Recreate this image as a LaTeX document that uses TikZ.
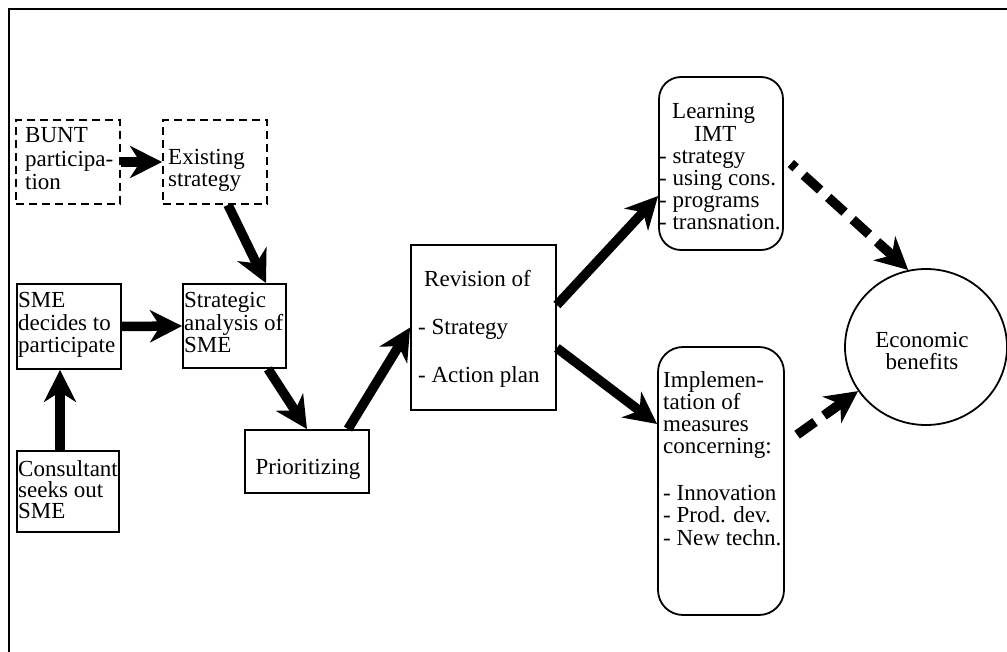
\documentclass[tikz,border=0pt]{standalone}
\usepackage{fontspec}
\setmainfont{Liberation Serif}
\usetikzlibrary{arrows.meta,shapes.geometric,calc}

% left-aligned block of lines: width, baselineskip, lines
\newcommand\tbl[3]{\parbox[t]{#1}{\fontsize{23}{#2}\selectfont #3}}
% centred block of lines
\newcommand\tbc[3]{\parbox[t]{#1}{\centering\fontsize{23}{#2}\selectfont #3}}

\begin{document}
\begin{tikzpicture}[x=1pt,y=-1pt,
  box/.style={draw, line width=1.8pt, inner sep=0pt},
  dbox/.style={box, dash pattern=on 8pt off 5pt},
  rbox/.style={box, rounded corners=22pt},
  arr/.style={line width=9.5pt, -{Stealth[length=32pt,width=32pt,inset=10pt]}},
  dline/.style={line width=9.5pt, dash pattern=on 22pt off 11pt},
  lbl/.style={inner sep=0pt, anchor=base west},
  clbl/.style={inner sep=0pt, anchor=base}]

\useasboundingbox (0,0) rectangle (1007,652);

% frame
\draw[line width=1.5pt] (1007,9) -- (9,9) -- (9,652);

% boxes
\node[dbox, minimum width=104pt, minimum height=84pt] (bunt)  at (68,162) {};
\node[dbox, minimum width=104pt, minimum height=84pt] (exist) at (215,162) {};
\node[box, minimum width=104pt, minimum height=85pt]  (sme)   at (69,326.5) {};
\node[box, minimum width=103pt, minimum height=84pt]  (strat) at (234.5,326) {};
\node[box, minimum width=102pt, minimum height=81pt]  (cons)  at (68,491.5) {};
\node[box, minimum width=124pt, minimum height=63pt]  (prio)  at (307,461.5) {};
\node[box, minimum width=145pt, minimum height=165pt] (rev)   at (483.5,327.5) {};
\node[rbox, minimum width=124pt, minimum height=173pt] (learn) at (721,163.5) {};
\node[rbox, minimum width=126pt, minimum height=268pt, rounded corners=25pt] (impl) at (721,481) {};
\node[box, ellipse, minimum width=162pt, minimum height=156pt] (econ) at (926,347) {};

% texts
\node[lbl] (bunt-t)  at (25,143)  {\tbl{100pt}{23.5}{BUNT\\participa-\\tion}};
\node[lbl] (exist-t) at (168,165) {\tbl{100pt}{22}{Existing\\strategy}};
\node[lbl] (sme-t)   at (18,308)  {\tbl{110pt}{22.5}{SME\\decides to\\participate}};
\node[lbl] (strat-t) at (184,308) {\tbl{110pt}{22.5}{Strategic\\analysis of\\SME}};
\node[lbl] (cons-t)  at (18,476)  {\tbl{110pt}{21}{Consultant\\seeks out\\SME}};
\node[clbl] (prio-t) at (308,474) {\tbc{120pt}{22}{Prioritizing}};
\node[lbl] (rev-t)   at (418,287) {\tbl{140pt}{48}{\hspace*{6pt}Revision of\\- Strategy\\- Action plan}};
\node[lbl] (learn-t) at (659,119) {\tbl{130pt}{22.2}{\hspace*{13pt}Learning\\\hspace*{35pt}IMT\\- strategy\\- using cons.\\- programs\\- transnation.}};
\node[lbl] (impl-t)  at (663,387) {\tbl{130pt}{22.3}{Implemen-\\tation of\\measures\\concerning:\\[24.5pt]- Innovation\\- Prod. dev.\\- New techn.}};
\node[clbl] (econ-t) at (922,348) {\tbc{140pt}{22}{Economic\\benefits}};

% solid connectors
\draw[arr] (bunt.east) -- (exist.west);
\draw[arr] ([xshift=13pt]exist.south) -- ([xshift=31.5pt]strat.north);
\draw[arr] (sme.east) -- (strat.west);
\draw[arr] ([xshift=-8pt]cons.north) -- ([xshift=-8pt]cons.north |- sme.south);
\draw[arr] ([xshift=33.5pt]strat.south) -- (prio.north);
\draw[arr] ([xshift=41pt]prio.north) -- (rev.west);
\draw[arr] ([yshift=22.5pt]rev.east) -- ([yshift=-32.5pt]learn.west);
\draw[arr] ([yshift=-20.5pt]rev.east) -- ([yshift=57pt]impl.west);

% dashed connectors: dashes laid out from the head backwards, head drawn solid
\coordinate (d1s) at ([xshift=7pt]learn.east);
\coordinate (d1e) at (econ.103);
\draw[dline] ($(d1e)!20pt!(d1s)$) -- (d1s);
\draw[arr] ($(d1e)!40pt!(d1s)$) -- (d1e);

\coordinate (d2s) at ([xshift=9pt,yshift=44pt]impl.east);
\coordinate (d2e) at (econ.213);
\draw[dline] ($(d2e)!20pt!(d2s)$) -- (d2s);
\draw[arr] ($(d2e)!40pt!(d2s)$) -- (d2e);

\end{tikzpicture}
\end{document}
